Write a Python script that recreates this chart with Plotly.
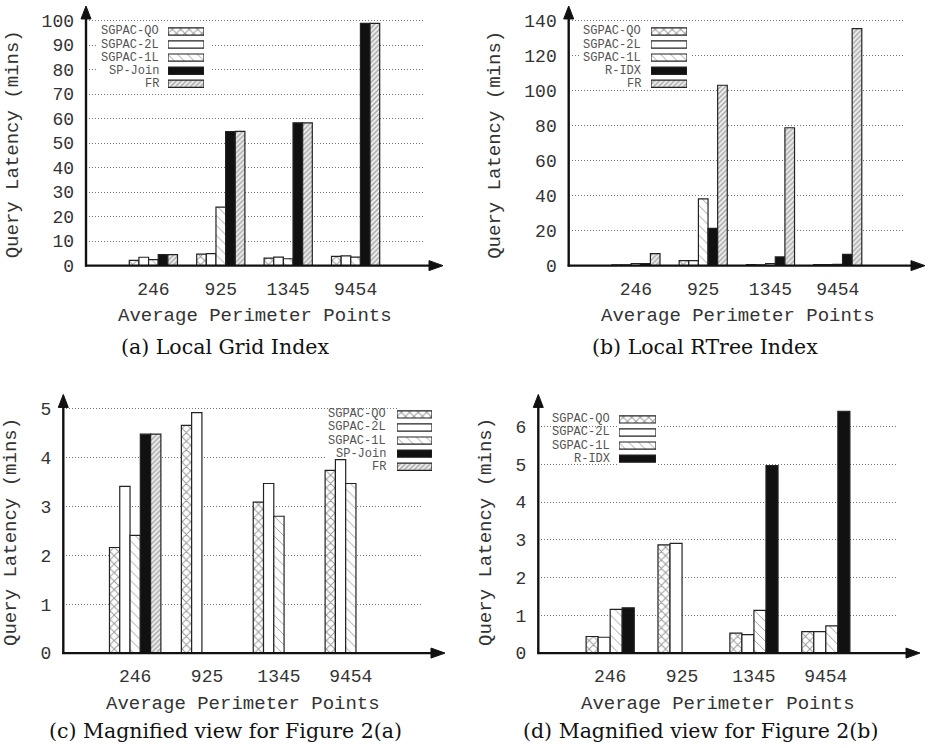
import plotly.graph_objects as go

# ---------------- data (query latency in minutes) ----------------
categories = ["246", "925", "1345", "9454"]

grid_series = ["SGPAC-QO", "SGPAC-2L", "SGPAC-1L", "SP-Join", "FR"]
grid_qo = [2.16, 4.66, 3.09, 3.74]
grid_2l = [3.41, 4.92, 3.47, 3.96]
grid_1l = [2.41, 23.9, 2.80, 3.47]
grid_spjoin = [4.48, 54.7, 58.3, 98.9]
grid_fr = [4.48, 54.8, 58.3, 98.9]

rtree_series = ["SGPAC-QO", "SGPAC-2L", "SGPAC-1L", "R-IDX", "FR"]
rtree_qo = [0.44, 2.87, 0.53, 0.57]
rtree_2l = [0.42, 2.91, 0.49, 0.57]
rtree_1l = [1.16, 38.1, 1.13, 0.72]
rtree_ridx = [1.20, 21.3, 4.97, 6.41]
rtree_fr = [6.85, 103.1, 78.8, 135.4]

grid_values = [grid_qo, grid_2l, grid_1l, grid_spjoin, grid_fr]
rtree_values = [rtree_qo, rtree_2l, rtree_1l, rtree_ridx, rtree_fr]

# ---------------- styling ----------------
W, H = 934, 748
VSCALE = 1.0135          # vertical layout stretch of the page
MONO = "Liberation Mono"
SERIF = "DejaVu Serif"
OUTLINE = dict(color="#222", width=1.2)

# fill style of each series position: crosshatch, empty, back-diagonal, solid, fine diagonal
FILLS = [
    dict(color="white", pattern=dict(shape="x", size=6, solidity=0.3, fgcolor="#333", bgcolor="white")),
    dict(color="white"),
    dict(color="white", pattern=dict(shape="\\", size=7, solidity=0.13, fgcolor="#333", bgcolor="white")),
    dict(color="#111"),
    dict(color="#eee", pattern=dict(shape="/", size=3.5, solidity=0.38, fgcolor="#555", bgcolor="#eee")),
]


def fx(p):
    return p / W


def fy(p):
    return 1 - p * VSCALE / H


panels = [
    dict(names=grid_series, values=grid_values, magnified=False,
         xl=86, xr=423, xtip=443, y0=266, ytop=6, ref_px=20.7, ref_val=100, dtick=10,
         leg_right=161, leg_sx=(168, 204), leg_row0=31.5, leg_step=13.1, box=(98, 211, 22, 93),
         caption="(a) Local Grid Index", cap=(225, 347), xt=(254.5, 316), yt=(12.5, 145)),
    dict(names=rtree_series, values=rtree_values, magnified=False,
         xl=568.7, xr=905, xtip=925, y0=266, ytop=6, ref_px=20.7, ref_val=140, dtick=20,
         leg_right=643, leg_sx=(651, 687), leg_row0=31.5, leg_step=13.1, box=(581, 692, 22, 90),
         caption="(b) Local RTree Index", cap=(705, 347), xt=(737.5, 316), yt=(495, 145)),
    dict(names=grid_series, values=grid_values, magnified=True,
         xl=63.3, xr=422.7, xtip=445, y0=654, ytop=395, ref_px=409.3, ref_val=5, dtick=1,
         leg_right=388, leg_sx=(397, 432), leg_row0=415, leg_step=13.1, box=(326, 440, 409.8, 474),
         caption="(c) Magnified view for Figure 2(a)", cap=(225, 732.5), xt=(243.3, 705), yt=(11.7, 533)),
    dict(names=rtree_series[:4], values=rtree_values[:4], magnified=True,
         xl=538.3, xr=897.7, xtip=920, y0=654, ytop=395, ref_px=427.3, ref_val=6, dtick=1,
         leg_right=612, leg_sx=(619, 656), leg_row0=420, leg_step=13.1, box=(550, 662, 428, 463.8),
         caption="(d) Magnified view for Figure 2(b)", cap=(700, 732.5), xt=(717.8, 705), yt=(486.7, 533)),
]

fig = go.Figure()
layout = dict(
    width=W, height=H, margin=dict(l=0, r=0, t=0, b=0),
    paper_bgcolor="white", plot_bgcolor="white",
    showlegend=False, barmode="group",
)
shapes, annotations = [], []

XMIN, XMAX = -1, 4
positions = list(range(len(categories)))

for i, p in enumerate(panels):
    n = len(p["names"])
    ymax = p["ref_val"] * (p["y0"] - p["ytop"]) / (p["y0"] - p["ref_px"])
    xa, ya = f"x{i + 1}", f"y{i + 1}"
    xkey = "xaxis" if i == 0 else f"xaxis{i + 1}"
    ykey = "yaxis" if i == 0 else f"yaxis{i + 1}"

    # grouped bars; the magnified views leave out bars that run past the top of the axis
    group = 0.715 if n == 5 else 0.67
    bw = group / n
    for k, (name, vals) in enumerate(zip(p["names"], p["values"])):
        shown = [v if (not p["magnified"] or v <= ymax) else None for v in vals]
        fig.add_trace(go.Bar(
            x=positions, y=shown, name=name, xaxis=xa, yaxis=ya,
            width=bw, offset=-group / 2 + k * bw,
            marker=dict(**FILLS[k], line=OUTLINE), hoverinfo="skip",
        ))

    layout[xkey] = dict(
        domain=[fx(p["xl"]), fx(p["xr"])], range=[XMIN, XMAX], anchor=ya,
        tickmode="array", tickvals=positions, ticktext=categories,
        showgrid=False, zeroline=False, showline=False, ticks="",
        ticklabelstandoff=10, tickfont=dict(family=MONO, size=18, color="#333"),
    )
    layout[ykey] = dict(
        domain=[fy(p["y0"]), fy(p["ytop"])], range=[0, ymax], anchor=xa,
        dtick=p["dtick"], tick0=0, showgrid=True, gridcolor="#777", gridwidth=1,
        griddash="1px,2px", zeroline=False, showline=False, ticks="",
        ticklabelstandoff=11, tickfont=dict(family=MONO, size=18, color="#333"),
    )

    # opaque key background (above the grid, below the bars)
    bx0, bx1, by0, by1 = p["box"]

    def dx(px_, p=p):
        return XMIN + (px_ - p["xl"]) / (p["xr"] - p["xl"]) * (XMAX - XMIN)

    def dy(py_, p=p, ymax=ymax):
        return (p["y0"] - py_) / (p["y0"] - p["ytop"]) * ymax

    shapes.append(dict(type="rect", xref=xa, yref=ya, layer="between",
                       x0=dx(bx0), x1=dx(min(bx1, p["xr"])), y0=dy(by1), y1=dy(by0),
                       fillcolor="white", line=dict(width=0)))

    # axis lines with arrow heads
    ax_col = "#111"
    shapes.append(dict(type="line", xref="paper", yref="paper",
                       x0=fx(p["xl"]), x1=fx(p["xl"]), y0=fy(p["y0"] + 1), y1=fy(p["ytop"] + 8),
                       line=dict(color=ax_col, width=2.4), layer="above"))
    shapes.append(dict(type="path", xref="paper", yref="paper", layer="above",
                       path=f"M {fx(p['xl'] - 5)},{fy(p['ytop'] + 13)} L {fx(p['xl'])},{fy(p['ytop'])} "
                            f"L {fx(p['xl'] + 5)},{fy(p['ytop'] + 13)} Z",
                       fillcolor=ax_col, line=dict(color=ax_col, width=1)))
    shapes.append(dict(type="line", xref="paper", yref="paper",
                       x0=fx(p["xl"] - 1), x1=fx(p["xtip"] - 8), y0=fy(p["y0"]), y1=fy(p["y0"]),
                       line=dict(color=ax_col, width=2.4), layer="above"))
    shapes.append(dict(type="path", xref="paper", yref="paper", layer="above",
                       path=f"M {fx(p['xtip'] - 14)},{fy(p['y0'] - 5)} L {fx(p['xtip'])},{fy(p['y0'])} "
                            f"L {fx(p['xtip'] - 14)},{fy(p['y0'] + 5)} Z",
                       fillcolor=ax_col, line=dict(color=ax_col, width=1)))

    # key: swatches drawn as bars on their own small axes, labels to their left
    lx, ly = f"x{i + 5}", f"y{i + 5}"
    row_first = p["leg_row0"]
    row_last = p["leg_row0"] + (n - 1) * p["leg_step"]
    half = p["leg_step"] / 2
    for k, name in enumerate(p["names"]):
        fig.add_trace(go.Bar(
            x=[1], y=[k], base=0, orientation="h", width=0.55,
            xaxis=lx, yaxis=ly, marker=dict(**FILLS[k], line=OUTLINE), hoverinfo="skip",
        ))
        annotations.append(dict(
            xref="paper", yref="paper", x=fx(p["leg_right"]), y=fy(p["leg_row0"] + k * p["leg_step"]),
            xanchor="right", yanchor="middle", showarrow=False, text=name,
            font=dict(family=MONO, size=12, color="#555"),
        ))
    layout[f"xaxis{i + 5}"] = dict(domain=[fx(p["leg_sx"][0]), fx(p["leg_sx"][1])], range=[0, 1],
                                   anchor=ly, visible=False, fixedrange=True)
    layout[f"yaxis{i + 5}"] = dict(domain=[fy(row_last + half), fy(row_first - half)],
                                   range=[n - 0.5, -0.5], anchor=lx, visible=False, fixedrange=True)

    # titles and caption
    annotations.append(dict(xref="paper", yref="paper", x=fx(p["xt"][0]), y=fy(p["xt"][1]),
                            xanchor="center", yanchor="middle", showarrow=False,
                            text="Average Perimeter Points",
                            font=dict(family=MONO, size=19, color="#333")))
    annotations.append(dict(xref="paper", yref="paper", x=fx(p["yt"][0]), y=fy(p["yt"][1]),
                            xanchor="center", yanchor="middle", showarrow=False, textangle=-90,
                            text="Query Latency (mins)",
                            font=dict(family=MONO, size=19, color="#333")))
    annotations.append(dict(xref="paper", yref="paper", x=fx(p["cap"][0]), y=fy(p["cap"][1]),
                            xanchor="center", yanchor="middle", showarrow=False,
                            text=p["caption"], font=dict(family=SERIF, size=20.5, color="#111")))

layout["shapes"] = shapes
layout["annotations"] = annotations
fig.update_layout(**layout)
fig.write_html("out.html")
